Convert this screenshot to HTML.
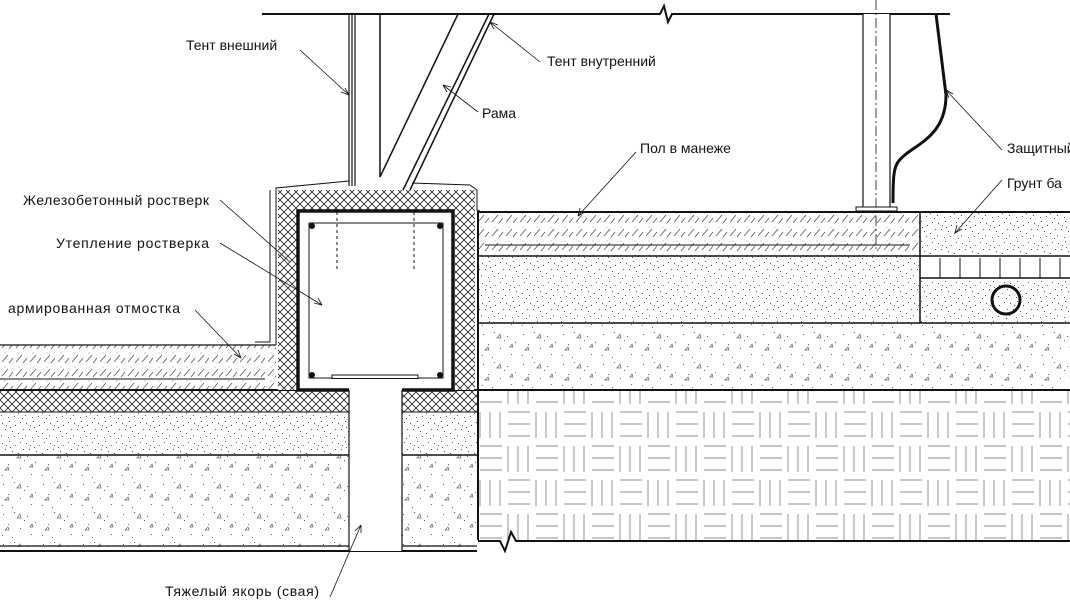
<!DOCTYPE html>
<html><head><meta charset="utf-8"><style>
html,body{margin:0;padding:0;background:#fff;}
svg{display:block}
text{font-family:"Liberation Sans",sans-serif;font-size:14px;fill:#111;}
</style></head><body>
<svg width="1070" height="601" viewBox="0 0 1070 601" xmlns="http://www.w3.org/2000/svg">
<defs>
<pattern id="cross" width="8" height="8" patternUnits="userSpaceOnUse">
<rect width="8" height="8" fill="#fff"/>
<path d="M0,0 L8,8 M8,0 L0,8" stroke="#222" stroke-width="0.8"/>
</pattern>
<pattern id="hatch" width="14" height="14" patternUnits="userSpaceOnUse">
<rect width="14" height="14" fill="#fff"/>
<path d="M2,12 L8,5 M9,13 L13,8" stroke="#555" stroke-width="0.8"/>
<circle cx="5" cy="3" r="0.5" fill="#777"/>
</pattern>
<pattern id="sand" width="24" height="20" patternUnits="userSpaceOnUse">
<rect width="24" height="20" fill="#fff"/>
<g fill="#555">
<rect x="2" y="3" width="1" height="1"/><rect x="9" y="1" width="1" height="1"/><rect x="15" y="5" width="1" height="1"/>
<rect x="20" y="2" width="1" height="1"/><rect x="5" y="9" width="1" height="1"/><rect x="12" y="11" width="1" height="1"/>
<rect x="18" y="13" width="1" height="1"/><rect x="1" y="15" width="1" height="1"/><rect x="8" y="17" width="1" height="1"/>
<rect x="22" y="18" width="1" height="1"/><rect x="14" y="16" width="1" height="1"/><rect x="6" y="5" width="1" height="1"/>
<rect x="23" y="9" width="1" height="1"/><rect x="10" y="7" width="1" height="1"/>
</g>
</pattern>
<pattern id="gravel" width="40" height="30" patternUnits="userSpaceOnUse">
<rect width="40" height="30" fill="#fff"/>
<g fill="#666">
<rect x="3" y="4" width="1" height="1"/><rect x="14" y="2" width="1" height="1"/><rect x="27" y="6" width="1" height="1"/>
<rect x="35" y="12" width="1" height="1"/><rect x="8" y="14" width="1" height="1"/><rect x="20" y="18" width="1" height="1"/>
<rect x="31" y="24" width="1" height="1"/><rect x="2" y="25" width="1" height="1"/><rect x="12" y="27" width="1" height="1"/>
<rect x="24" y="10" width="1" height="1"/>
</g>
<path d="M17,8 l3,-4 l1,4z M5,20 l3,-3 l1,3z M30,17 l2,-3 l1,3z" fill="none" stroke="#666" stroke-width="0.7"/>
</pattern>
<pattern id="weave" width="56" height="68" patternUnits="userSpaceOnUse">
<rect width="56" height="68" fill="#fff"/>
<g stroke="#666" stroke-width="0.7">
<path d="M4,4 L26,4 M4,16 L26,16 M4,28 L26,28"/>
<path d="M32,4 L32,30 M42,4 L42,30 M52,4 L52,30"/>
<path d="M32,38 L54,38 M32,50 L54,50 M32,62 L54,62"/>
<path d="M4,38 L4,64 M14,38 L14,64 M24,38 L24,64"/>
</g>
</pattern>
</defs>

<!-- top line -->
<path d="M262,14 L660,14 L664,6 L668,22 L672,14 L950,14" stroke="#111" stroke-width="2" fill="none"/>

<!-- left ground layers -->
<rect x="0" y="345" width="276" height="45" fill="url(#hatch)"/>
<line x1="0" y1="345" x2="276" y2="345" stroke="#111" stroke-width="1.2"/>
<line x1="0" y1="379" x2="265" y2="379" stroke="#111" stroke-width="1"/>
<rect x="0" y="390" width="477" height="22" fill="url(#cross)"/>
<rect x="0" y="412" width="477" height="43" fill="url(#sand)"/>
<rect x="0" y="455" width="477" height="92" fill="url(#gravel)"/>
<line x1="0" y1="390" x2="477" y2="390" stroke="#111" stroke-width="2"/>
<line x1="0" y1="412" x2="477" y2="412" stroke="#111" stroke-width="1"/>
<line x1="0" y1="455" x2="477" y2="455" stroke="#111" stroke-width="1.5"/>
<line x1="0" y1="546" x2="477" y2="546" stroke="#111" stroke-width="1.2"/>
<line x1="0" y1="551" x2="477" y2="551" stroke="#111" stroke-width="2"/>

<!-- pile -->
<rect x="349" y="378" width="53" height="173" fill="#fff"/>
<line x1="349" y1="378" x2="349" y2="551" stroke="#111" stroke-width="1.2"/>
<line x1="402" y1="378" x2="402" y2="551" stroke="#111" stroke-width="1.2"/>

<!-- rostverk insulation -->
<path d="M278,190 L475,190 L475,390 L455,390 L455,211 L298,211 L298,390 L278,390 Z" fill="url(#cross)"/>
<path d="M276,345 L276,188 L349,181 M412,183 L470,185 L477,190 L477,210 L480,211" stroke="#111" stroke-width="1" fill="none"/>
<path d="M270,190 L270,342 L255,342" stroke="#111" stroke-width="1" fill="none"/>
<!-- box -->
<path d="M349,390 L298,390 L298,211 L453,211 L453,390 L402,390" stroke="#111" stroke-width="3.5" fill="#fff"/>
<rect x="309" y="223" width="134" height="155" fill="none" stroke="#111" stroke-width="1"/>
<rect x="332" y="375" width="86" height="3.5" fill="#fff" stroke="#111" stroke-width="1"/>
<g fill="#111"><circle cx="312" cy="226" r="3"/><circle cx="440" cy="226" r="3"/><circle cx="312" cy="375" r="3"/><circle cx="440" cy="375" r="3"/></g>
<path d="M337,212 L337,270 M414,212 L414,270" stroke="#111" stroke-width="1" stroke-dasharray="3,3"/>

<!-- posts / frame -->
<path d="M349,14 L349,186 M352,14 L352,186 M355,14 L355,186" stroke="#111" stroke-width="1.2" fill="none"/>
<path d="M380,14 L380,177 L458,14" stroke="#111" stroke-width="1.5" fill="none"/>
<path d="M403,190 L489,14 M410,190 L494,14" stroke="#111" stroke-width="1.5" fill="none"/>

<!-- right layers -->
<rect x="478" y="212" width="442" height="44" fill="url(#hatch)"/>
<line x1="485" y1="245" x2="910" y2="245" stroke="#111" stroke-width="1"/>
<rect x="478" y="256" width="442" height="67" fill="url(#sand)"/>
<rect x="920" y="212" width="150" height="44" fill="url(#sand)"/>
<rect x="920" y="280" width="150" height="43" fill="url(#sand)"/>
<g stroke="#111" stroke-width="1">
<path d="M940,258 V278 M960,258 V278 M980,258 V278 M1000,258 V278 M1020,258 V278 M1040,258 V278 M1060,258 V278"/>
</g>
<rect x="478" y="323" width="592" height="67" fill="url(#gravel)"/>
<rect x="478" y="390" width="592" height="150" fill="url(#weave)"/>
<g stroke="#111" fill="none">
<line x1="478" y1="212" x2="1070" y2="212" stroke-width="2"/>
<line x1="478" y1="256" x2="1070" y2="256" stroke-width="1.5"/>
<line x1="920" y1="278" x2="1070" y2="278" stroke-width="1.5"/>
<line x1="478" y1="323" x2="1070" y2="323" stroke-width="1.5"/>
<line x1="478" y1="390" x2="1070" y2="390" stroke-width="2"/>
<line x1="920" y1="212" x2="920" y2="323" stroke-width="1.5"/>
<line x1="478" y1="211" x2="478" y2="390" stroke-width="2"/>
<line x1="478" y1="390" x2="478" y2="540" stroke-width="2"/>
<path d="M478,541 L500,541 L505,551 L511,532 L516,541 L1070,541" stroke-width="2"/>
<circle cx="1006" cy="300" r="14" stroke-width="3"/>
</g>

<!-- right post -->
<rect x="863" y="14" width="27" height="193" fill="#fff"/>
<path d="M863,14 V207 M890,14 V207" stroke="#111" stroke-width="1.2"/>
<path d="M876,0 V250" stroke="#111" stroke-width="0.8" stroke-dasharray="10,3,2,3"/>
<rect x="856" y="207" width="41" height="4" fill="#fff" stroke="#111" stroke-width="1"/>
<path d="M936,14 L946,95 C946,140 910,145 898,162 C894,168 893,175 893,203" stroke="#111" stroke-width="3" fill="none"/>

<!-- leaders -->
<g stroke="#111" stroke-width="0.8" fill="none">
<path d="M300,50 L349,95"/><path d="M349,95 l-8,-3 M349,95 l-4,-7"/>
<path d="M540,62 L490,22"/><path d="M490,22 l8,3 M490,22 l4,7"/>
<path d="M478,112 L443,85"/><path d="M443,85 l8,2 M443,85 l4,7"/>
<path d="M636,152 L578,216"/><path d="M578,216 l2,-8 M578,216 l7,-4"/>
<path d="M1002,150 L946,90"/><path d="M946,90 l3,8 M946,90 l7,4"/>
<path d="M1002,180 L955,233"/><path d="M955,233 l2,-8 M955,233 l7,-4"/>
<path d="M220,200 L290,262"/>
<path d="M220,243 L322,305"/><path d="M322,305 l-8,-2 M322,305 l-4,-7"/>
<path d="M195,310 L241,358"/><path d="M241,358 l-7,-4 M241,358 l-3,-8"/>
<path d="M330,597 L361,525"/><path d="M361,525 l0,8 M361,525 l-6,6"/>
</g>

<!-- labels -->
<text x="186" y="50">Тент внешний</text>
<text x="547" y="66">Тент внутренний</text>
<text x="482" y="118">Рама</text>
<text x="640" y="153">Пол в манеже</text>
<text x="1007" y="153">Защитный</text>
<text x="1007" y="188">Грунт ба</text>
<text x="23" y="205" textLength="186">Железобетонный ростверк</text>
<text x="56" y="248" textLength="153">Утепление ростверка</text>
<text x="8" y="313" textLength="172">армированная отмостка</text>
<text x="165" y="596" textLength="154">Тяжелый якорь (свая)</text>
</svg>
</body></html>
